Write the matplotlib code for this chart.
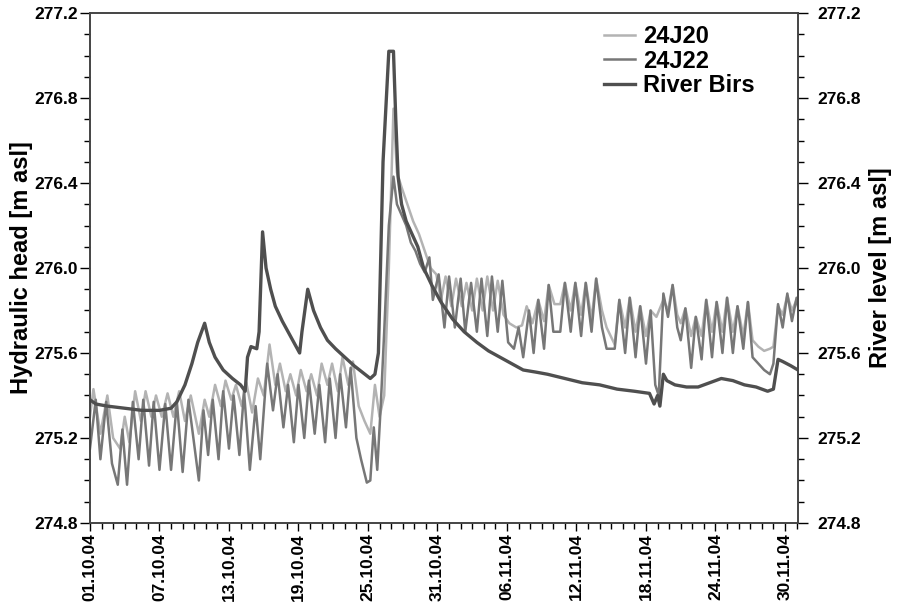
import matplotlib
matplotlib.use("Agg")
import matplotlib.pyplot as plt
import matplotlib.dates as mdates
from matplotlib.ticker import MultipleLocator, FormatStrFormatter
import numpy as np
import pandas as pd

plt.rcParams["font.family"] = ["Liberation Sans", "DejaVu Sans"]
plt.rcParams["font.weight"] = "bold"

START = pd.Timestamp("2004-10-01")

# days since 01.10.04, values in m asl
j20_days = [0.0, 0.3, 0.9, 1.5, 2.0, 2.6, 3.0, 3.4, 3.9, 4.4, 4.8, 5.3, 5.7, 6.2, 6.7, 7.2,
            7.7, 8.2, 8.7, 9.4, 9.9, 10.3, 10.8, 11.3, 11.7, 12.2, 12.6, 13.1, 13.5, 14.0,
            14.5, 15.0, 15.5, 16.0, 16.4, 16.9, 17.3, 17.8, 18.2, 18.7, 19.1, 19.6, 20.0,
            20.5, 20.9, 21.4, 21.8, 22.3, 22.7, 23.2, 23.7, 24.2, 24.6, 25.0, 25.4, 25.8,
            26.2, 26.5, 26.9, 27.4, 27.9, 28.4, 28.9, 29.4, 29.9, 30.3, 30.7, 31.2, 31.6,
            32.1, 32.5, 33.0, 33.4, 33.9, 34.3, 34.8, 35.2, 35.7, 36.2, 36.8, 37.3, 37.7,
            38.2, 38.7, 39.2, 39.6, 40.1, 40.6, 41.0, 41.5, 41.9, 42.4, 42.8, 43.3, 43.7,
            44.2, 44.6, 45.3, 45.7, 46.2, 46.6, 47.1, 47.5, 48.0, 48.4, 48.9, 49.5, 49.9,
            50.3, 50.7, 51.0, 51.4, 51.9, 52.3, 52.8, 53.2, 53.7, 54.1, 54.6, 55.0, 55.5,
            55.9, 56.4, 56.8, 57.2, 57.7, 58.2, 58.7, 59.0, 59.4, 59.8, 60.2, 60.6, 61.0,
            61.12]
j20_vals = [275.30, 275.43, 275.22, 275.40, 275.20, 275.15, 275.30, 275.18, 275.42, 275.28,
            275.42, 275.30, 275.40, 275.30, 275.41, 275.30, 275.42, 275.28, 275.40, 275.22,
            275.38, 275.30, 275.45, 275.35, 275.47, 275.38, 275.45, 275.35, 275.46, 275.32,
            275.48, 275.40, 275.64, 275.45, 275.55, 275.42, 275.50, 275.40, 275.52, 275.42,
            275.50, 275.40, 275.55, 275.45, 275.55, 275.42, 275.58, 275.45, 275.56, 275.35,
            275.28, 275.22, 275.45, 275.30, 275.40, 276.00, 276.75, 276.45, 276.38, 276.30,
            276.22, 276.16, 276.08, 276.00, 275.97, 275.85, 275.96, 275.82, 275.95, 275.82,
            275.93, 275.80, 275.95, 275.80, 275.96, 275.80, 275.94, 275.78, 275.74, 275.72,
            275.73, 275.82, 275.74, 275.85, 275.75, 275.92, 275.83, 275.83, 275.93, 275.80,
            275.93, 275.78, 275.93, 275.76, 275.95, 275.80, 275.72, 275.64, 275.85, 275.72,
            275.86, 275.70, 275.82, 275.68, 275.80, 275.77, 275.85, 275.80, 275.92, 275.78,
            275.74, 275.81, 275.68, 275.77, 275.68, 275.85, 275.70, 275.84, 275.70, 275.86,
            275.70, 275.82, 275.68, 275.84, 275.66, 275.63, 275.61, 275.62, 275.63, 275.82,
            275.78, 275.87, 275.80, 275.85, 275.83]

j22_days = [0.0, 0.5, 0.9, 1.4, 1.9, 2.4, 2.8, 3.2, 3.7, 4.2, 4.6, 5.1, 5.5, 6.0, 6.5, 7.0,
            7.5, 8.0, 8.5, 9.4, 9.8, 10.2, 10.6, 11.1, 11.5, 12.0, 12.4, 12.9, 13.3, 13.8,
            14.3, 14.7, 15.3, 15.8, 16.2, 16.7, 17.1, 17.6, 18.0, 18.5, 18.9, 19.4, 19.8,
            20.3, 20.7, 21.2, 21.6, 22.1, 22.5, 23.0, 23.4, 23.9, 24.2, 24.5, 24.8, 25.1,
            25.4, 25.8, 26.2, 26.5, 26.9, 27.3, 27.7, 28.1, 28.5, 28.9, 29.3, 29.6, 30.1,
            30.6, 31.0, 31.5, 32.0, 32.4, 32.9, 33.4, 33.8, 34.3, 34.7, 35.2, 35.6, 36.1,
            36.6, 37.0, 37.4, 37.9, 38.3, 38.7, 39.2, 39.6, 40.0, 40.6, 41.0, 41.5, 41.9,
            42.4, 42.8, 43.3, 43.7, 44.2, 44.6, 45.3, 45.7, 46.2, 46.6, 47.1, 47.5, 48.0,
            48.4, 48.8, 49.1, 49.5, 49.9, 50.3, 50.7, 51.0, 51.4, 51.9, 52.3, 52.8, 53.2,
            53.7, 54.1, 54.6, 55.0, 55.5, 55.9, 56.4, 56.8, 57.2, 57.7, 58.2, 58.7, 59.0,
            59.4, 59.8, 60.2, 60.6, 61.0, 61.12]
j22_vals = [275.15, 275.38, 275.10, 275.37, 275.08, 274.98, 275.24, 274.98, 275.37, 275.10,
            275.38, 275.07, 275.37, 275.05, 275.36, 275.05, 275.37, 275.04, 275.38, 275.00,
            275.33, 275.12, 275.38, 275.10, 275.42, 275.15, 275.40, 275.12, 275.42, 275.05,
            275.35, 275.10, 275.55, 275.33, 275.50, 275.25, 275.45, 275.18, 275.45, 275.20,
            275.47, 275.22, 275.45, 275.18, 275.48, 275.20, 275.50, 275.25, 275.53, 275.20,
            275.10, 274.99, 275.00, 275.25, 275.05, 275.35, 275.70, 276.20, 276.43, 276.30,
            276.25, 276.20, 276.12, 276.08, 276.02, 275.98, 276.05, 275.85, 275.97, 275.72,
            275.96, 275.72, 275.95, 275.70, 275.93, 275.70, 275.95, 275.68, 275.96, 275.70,
            275.94, 275.65, 275.62, 275.72, 275.58, 275.80, 275.60, 275.85, 275.62, 275.92,
            275.70, 275.70, 275.93, 275.70, 275.93, 275.68, 275.93, 275.70, 275.95, 275.72,
            275.62, 275.62, 275.85, 275.60, 275.86, 275.58, 275.82, 275.55, 275.80, 275.45,
            275.40, 275.88, 275.77, 275.92, 275.72, 275.66, 275.81, 275.53, 275.77, 275.57,
            275.85, 275.58, 275.84, 275.60, 275.86, 275.60, 275.82, 275.62, 275.84, 275.58,
            275.55, 275.52, 275.50, 275.55, 275.83, 275.72, 275.88, 275.75, 275.86, 275.82]

river_days = [0.0, 0.5, 1.5, 3.0, 4.5, 6.0, 7.0, 7.5, 8.2, 8.8, 9.3, 9.9, 10.3, 10.8, 11.5,
              12.3, 13.0, 13.4, 13.6, 13.9, 14.4, 14.6, 14.9, 15.2, 15.6, 16.0, 16.6, 17.2,
              17.7, 18.1, 18.3, 18.8, 19.3, 19.9, 20.5, 21.2, 22.0, 22.8, 23.5, 24.2, 24.6,
              24.9, 25.3, 25.8, 26.2, 26.4, 26.6, 26.9, 27.3, 27.8, 28.3, 28.8, 29.5, 30.3,
              31.3, 32.3, 33.4, 34.4, 35.4, 36.4, 37.4, 38.5, 39.5, 41.0, 42.5, 44.0, 45.5,
              47.0, 48.3, 48.7, 49.0, 49.2, 49.5, 49.8, 50.5, 51.5, 52.5, 53.5, 54.5, 55.5,
              56.5, 57.5, 58.5, 59.0, 59.4, 59.8, 60.5, 61.12]
river_vals = [275.38, 275.36, 275.35, 275.34, 275.33, 275.33, 275.34, 275.37, 275.45, 275.55,
              275.65, 275.74, 275.65, 275.58, 275.52, 275.48, 275.45, 275.42, 275.58, 275.63,
              275.62, 275.70, 276.17, 276.00, 275.90, 275.82, 275.75, 275.69, 275.64, 275.60,
              275.70, 275.90, 275.80, 275.72, 275.66, 275.62, 275.58, 275.54, 275.51, 275.48,
              275.50, 275.60, 276.50, 277.02, 277.02, 276.70, 276.43, 276.30, 276.22, 276.16,
              276.10, 276.00, 275.92, 275.84, 275.76, 275.70, 275.65, 275.61, 275.58, 275.55,
              275.52, 275.51, 275.50, 275.48, 275.46, 275.45, 275.43, 275.42, 275.41, 275.36,
              275.40, 275.35, 275.50, 275.47, 275.45, 275.44, 275.44, 275.46, 275.48, 275.47,
              275.45, 275.44, 275.42, 275.43, 275.57, 275.56, 275.54, 275.52]


def to_dates(days):
    return START + pd.to_timedelta(np.asarray(days), unit="D")


fig = plt.figure(figsize=(8.97, 6.06), dpi=100)
ax = fig.add_axes([0.1003, 0.137, 0.7893, 0.8415])

ax.plot(to_dates(j20_days), j20_vals, color="#b3b3b3", lw=1.8, label="24J20")
ax.plot(to_dates(j22_days), j22_vals, color="#777777", lw=1.8, label="24J22")
ax.plot(to_dates(river_days), river_vals, color="#4f4f4f", lw=2.4, label="River Birs")

ax.set_xlim(START, START + pd.Timedelta(days=61.12))
ax.set_ylim(274.8, 277.2)

ax.set_xticks(pd.date_range("2004-10-01", periods=11, freq="6D"))
ax.xaxis.set_minor_locator(mdates.DayLocator())
ax.xaxis.set_major_formatter(mdates.DateFormatter("%d.%m.%y"))
ax.tick_params(axis="x", which="major", length=6, width=1, labelrotation=90,
               labelsize=12.5, pad=1.5)
ax.tick_params(axis="x", which="minor", length=4, width=1)

ax.yaxis.set_major_locator(MultipleLocator(0.4))
ax.yaxis.set_minor_locator(MultipleLocator(0.1))
ax.yaxis.set_major_formatter(FormatStrFormatter("%.1f"))
ax.tick_params(axis="y", which="major", length=7, width=1, labelsize=12.5, pad=1.5)
ax.tick_params(axis="y", which="minor", length=4, width=1)
ax.set_ylabel("Hydraulic head [m asl]", fontsize=17, fontweight="bold", labelpad=1)

ax2 = ax.twinx()
ax2.set_ylim(274.8, 277.2)
ax2.yaxis.set_major_locator(MultipleLocator(0.4))
ax2.yaxis.set_minor_locator(MultipleLocator(0.1))
ax2.yaxis.set_major_formatter(FormatStrFormatter("%.1f"))
ax2.tick_params(axis="y", which="major", length=7, width=1, labelsize=12.5, pad=7)
ax2.tick_params(axis="y", which="minor", length=4, width=1)
ax2.set_ylabel("River level [m asl]", fontsize=17, fontweight="bold", labelpad=6)

for a in (ax, ax2):
    for s in a.spines.values():
        s.set_color("#444444")
        s.set_linewidth(1.2)
for lab in ax.get_xticklabels() + ax.get_yticklabels() + ax2.get_yticklabels():
    lab.set_fontweight("bold")

leg = ax.legend(loc="upper right", bbox_to_anchor=(0.962, 1.008), frameon=False,
                fontsize=17, handlelength=1.3, handletextpad=0.35, labelspacing=0.05,
                borderaxespad=0.3)
for t in leg.get_texts():
    t.set_fontweight("bold")

fig.savefig("out.png", dpi=100)
